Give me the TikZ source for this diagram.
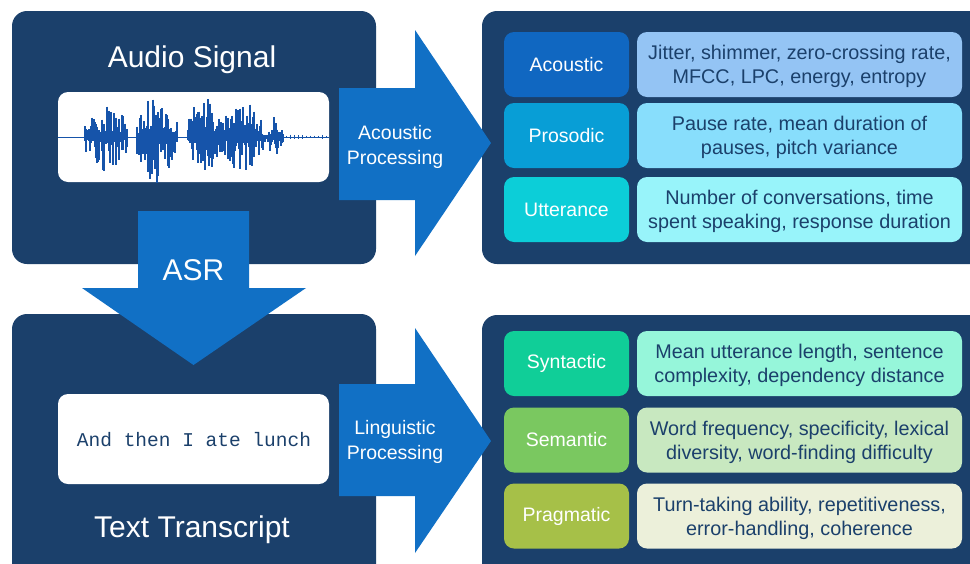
\documentclass[tikz,border=0pt]{standalone}
\usepackage{fontspec}
\setmainfont{Liberation Sans}
\newfontfamily\monofont{Liberation Mono}
\usepackage{xcolor}
\usetikzlibrary{positioning}

\definecolor{navy}{RGB}{27,64,107}
\definecolor{arrowblue}{RGB}{17,112,197}
\definecolor{wave}{RGB}{22,84,170}
\definecolor{acoustic}{RGB}{16,103,193}
\definecolor{acousticlight}{RGB}{148,196,244}
\definecolor{prosodic}{RGB}{8,158,214}
\definecolor{prosodiclight}{RGB}{136,222,252}
\definecolor{utterance}{RGB}{12,206,216}
\definecolor{utterancelight}{RGB}{152,244,250}
\definecolor{syntactic}{RGB}{16,206,152}
\definecolor{syntacticlight}{RGB}{150,246,218}
\definecolor{semantic}{RGB}{122,200,96}
\definecolor{semanticlight}{RGB}{200,232,192}
\definecolor{pragmatic}{RGB}{166,192,72}
\definecolor{pragmaticlight}{RGB}{236,240,218}

\begin{document}
\begin{tikzpicture}[x=1pt, y=-1pt,
    panel/.style={fill=navy, rounded corners=15pt},
    whitebox/.style={fill=white, rounded corners=10pt, minimum width=271pt, minimum height=90pt},
    bigtitle/.style={text=white, font=\fontsize{30}{34}\selectfont, anchor=base},
    arrowtext/.style={text=white, align=center, font=\fontsize{19.5}{24.5}\selectfont},
    category/.style={rounded corners=10pt, minimum width=125pt, minimum height=65pt, text=white, font=\fontsize{19.5}{24}\selectfont},
    feature/.style={rounded corners=10pt, minimum width=325pt, minimum height=65pt, text=navy, align=center, font=\fontsize{19.8}{24}\selectfont},
    featuretext/.style={text=navy, align=center, font=\fontsize{19.8}{24}\selectfont, yshift=-2pt},
    blockarrow/.style={fill=arrowblue}]
            \clip (0,0) rectangle (970,563);
            \fill[white] (0,0) rectangle (970,563);

            % panels
            \fill[panel] (12,11) rectangle (376,264);
            \fill[panel] (12,314) rectangle (376,600);
            \fill[panel] (482,11) rectangle (995,264);
            \fill[panel] (482,315) rectangle (995,600);

            % audio signal
            \node[bigtitle] (audio) at (192,67) {Audio Signal};
            \node[whitebox] (signal) at (193.5,137) {};
            \draw[wave, line width=0.6pt] (signal.west) -- (signal.east);
            \pgfmathsetseed{17}
            \foreach \xa/\xb/\amp in {85/127/36, 137/177/46, 188/221/40, 222/263/38, 265/283/20} {
                \foreach \x in {\xa,...,\xb} {
                    \pgfmathsetmacro\env{0.4+0.6*sin(180*(\x-\xa+0.5)/(\xb-\xa+1))}
                    \pgfmathsetmacro\up{\amp*\env*(0.15+0.85*rnd^2.2)}
                    \pgfmathsetmacro\dn{\amp*\env*(0.15+0.85*rnd^2.2)}
                    \draw[wave, line width=1.1pt] (\x,137-\up) -- (\x,137+\dn);
                }
            }
            \foreach \x in {286,290,...,326} {
                \pgfmathsetmacro\up{1+1.5*rnd}
                \draw[wave, line width=0.9pt] (\x,137-\up) -- (\x,137+\up);
            }

            % text transcript
            \node[whitebox] (transcript) at (193.5,439) {};
            \node[text=navy, anchor=base, font=\monofont\fontsize{19.5}{24}\selectfont] (sentence) at (194,446) {And then I ate lunch};
            \node[bigtitle] (text) at (192,537) {Text Transcript};

            % arrows
            \fill[blockarrow] (339,88) -- (415,88) -- (415,30) -- (491,143) -- (415,256) -- (415,200) -- (339,200) -- cycle;
            \node[arrowtext] (acproc) at (395,147) {Acoustic\\Processing};
            \fill[blockarrow] (339,384) -- (415,384) -- (415,328) -- (491,441) -- (415,553) -- (415,496) -- (339,496) -- cycle;
            \node[arrowtext] (liproc) at (395,442) {Linguistic\\Processing};
            \fill[blockarrow] (138,211) -- (249,211) -- (249,288) -- (306,288) -- (193.5,365) -- (82,288) -- (138,288) -- cycle;
            \node[bigtitle] (asr) at (193.5,280) {ASR};

            % acoustic features
            \node[category, fill=acoustic] (ac) at (566.5,64.5) {Acoustic};
            \node[feature, fill=acousticlight] (acf) at (799.5,64.5) {};
            \node[featuretext] at (acf) {Jitter, shimmer, zero-crossing rate,\\MFCC, LPC, energy, entropy};
            \node[category, fill=prosodic] (pr) at (566.5,135.5) {Prosodic};
            \node[feature, fill=prosodiclight] (prf) at (799.5,135.5) {};
            \node[featuretext] at (prf) {Pause rate, mean duration of\\pauses, pitch variance};
            \node[category, fill=utterance] (ut) at (566.5,209.5) {Utterance};
            \node[feature, fill=utterancelight] (utf) at (799.5,209.5) {};
            \node[featuretext] at (utf) {Number of conversations, time\\spent speaking, response duration};

            % linguistic features
            \node[category, fill=syntactic] (sy) at (566.5,363.5) {Syntactic};
            \node[feature, fill=syntacticlight] (syf) at (799.5,363.5) {};
            \node[featuretext] at (syf) {Mean utterance length, sentence\\complexity, dependency distance};
            \node[category, fill=semantic] (se) at (566.5,440) {Semantic};
            \node[feature, fill=semanticlight] (sef) at (799.5,440) {};
            \node[featuretext] at (sef) {Word frequency, specificity, lexical\\diversity, word-finding difficulty};
            \node[category, fill=pragmatic] (pg) at (566.5,516) {Pragmatic};
            \node[feature, fill=pragmaticlight] (pgf) at (799.5,516) {};
            \node[featuretext] at (pgf) {Turn-taking ability, repetitiveness,\\error-handling, coherence};
        \end{tikzpicture}
\end{document}
